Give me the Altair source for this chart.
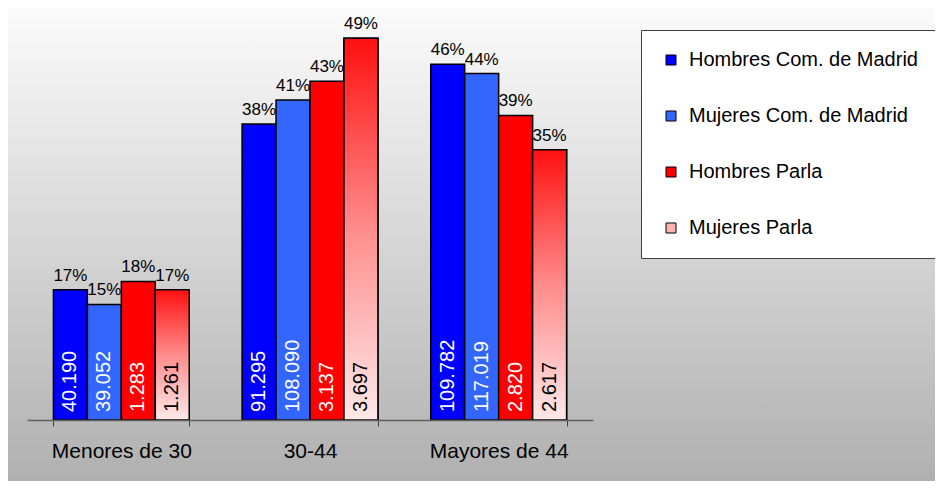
import altair as alt
import pandas as pd

categories = ["Menores de 30", "30-44", "Mayores de 44"]
series = ["Hombres Com. de Madrid", "Mujeres Com. de Madrid", "Hombres Parla", "Mujeres Parla"]
colors = ["#0000ff", "#3366ff", "#ff0000", "#ffb0b0"]

# share of each age group within the series (%)
pct_hombres_madrid = [16.66, 37.84, 45.50]
pct_mujeres_madrid = [14.78, 40.92, 44.30]
pct_hombres_parla = [17.72, 43.33, 38.95]
pct_mujeres_parla = [16.65, 48.81, 34.55]

# counts shown inside the bars
n_hombres_madrid = [40190, 91295, 109782]
n_mujeres_madrid = [39052, 108090, 117019]
n_hombres_parla = [1283, 3137, 2820]
n_mujeres_parla = [1261, 3697, 2617]

pcts = [pct_hombres_madrid, pct_mujeres_madrid, pct_hombres_parla, pct_mujeres_parla]
counts = [n_hombres_madrid, n_mujeres_madrid, n_hombres_parla, n_mujeres_parla]

rows = []
for si, s in enumerate(series):
    for ci, c in enumerate(categories):
        p = pcts[si][ci]
        n = counts[si][ci]
        rows.append({
            "cat": c,
            "serie": s,
            "pct": p,
            "pct_label": f"{round(p)}%",
            "n_label": f"{n:,}".replace(",", "."),
            "tcolor": "black" if s == "Mujeres Parla" else "white",
        })
df = pd.DataFrame(rows)

W, H = 566, 391
PAD = {"left": 19, "top": 21, "right": 342, "bottom": 61}

x_enc = alt.X(
    "cat:N",
    sort=categories,
    scale=alt.Scale(paddingInner=0.28, paddingOuter=0.14),
    axis=alt.Axis(
        title=None,
        labelAngle=0,
        labelFontSize=21,
        labelColor="black",
        labelPadding=14,
        tickBand="extent",
        tickSize=6,
        tickColor="#404040",
        domainColor="#606060",
        domainWidth=1.5,
        zindex=1,
    ),
)
xoff_enc = alt.XOffset("serie:N", sort=series, scale=alt.Scale(domain=series, paddingInner=0, paddingOuter=0))
y_enc = alt.Y("pct:Q", scale=alt.Scale(domain=[0, 50]), axis=None)

base = alt.Chart(df)

background = alt.Chart(alt.Data(values=[{}])).mark_rect(
    color=alt.Gradient(
        gradient="linear",
        stops=[alt.GradientStop(color="#fbfbfb", offset=0), alt.GradientStop(color="#b0b0b0", offset=1)],
        x1=0, x2=0, y1=0, y2=1,
    )
).encode(
    x=alt.value(-PAD["left"]),
    x2=alt.value(W + PAD["right"]),
    y=alt.value(-PAD["top"]),
    y2=alt.value(H + PAD["bottom"]),
)

bars = base.mark_bar(stroke="black", strokeWidth=1.5).encode(
    x=x_enc,
    xOffset=xoff_enc,
    y=y_enc,
    color=alt.Color(
        "serie:N",
        scale=alt.Scale(domain=series, range=colors),
        legend=alt.Legend(
            orient="none",
            legendX=614,
            legendY=1,
            title=None,
            fillColor="white",
            strokeColor="#404040",
            padding=20,
            rowPadding=36,
            labelFontSize=20,
            labelColor="black",
            labelLimit=400,
            labelOffset=8,
            symbolType="square",
            symbolSize=100,
            symbolStrokeColor="black",
            symbolStrokeWidth=1,
            symbolOpacity=1,
        ),
    ),
)

grad_bars = base.transform_filter(alt.datum.serie == "Mujeres Parla").mark_bar(
    stroke="black",
    strokeWidth=1.5,
    color=alt.Gradient(
        gradient="linear",
        stops=[
            alt.GradientStop(color="#ff1010", offset=0),
            alt.GradientStop(color="#ff8c8c", offset=0.5),
            alt.GradientStop(color="#ffe8e8", offset=1),
        ],
        x1=0, x2=0, y1=0, y2=1,
    ),
).encode(x=x_enc, xOffset=xoff_enc, y=y_enc)

pct_text = base.mark_text(baseline="bottom", dy=-5, fontSize=17, color="black").encode(
    x=x_enc, xOffset=xoff_enc, y=y_enc, text="pct_label:N"
)

n_text = base.mark_text(angle=270, align="left", baseline="middle", dx=8, fontSize=20).encode(
    x=x_enc,
    xOffset=xoff_enc,
    y=alt.datum(0),
    text="n_label:N",
    color=alt.Color("tcolor:N", scale=None),
)

chart = alt.layer(background, bars, grad_bars, pct_text, n_text).properties(
    width=W,
    height=H,
    padding=PAD,
    autosize="none",
).configure(font="Liberation Sans").configure_view(stroke=None)

chart.save("out.html", embed_options={"renderer": "svg", "actions": False})
